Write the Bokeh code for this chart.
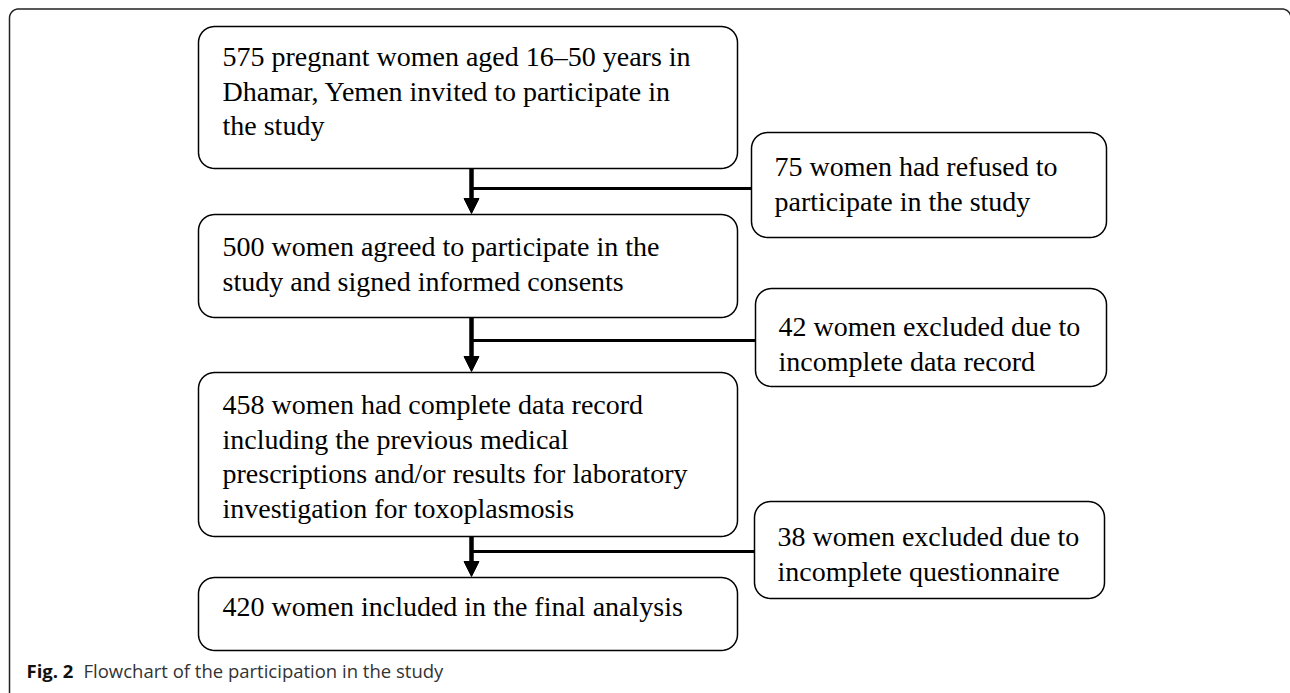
import numpy as np
from bokeh.plotting import figure
from bokeh.models import Range1d, Arrow, NormalHead
from bokeh.core.properties import value
from bokeh.embed import file_html
from bokeh.resources import INLINE

# ---- content (data) ----
main_counts = [575, 500, 458, 420]
excluded_counts = [75, 42, 38]
main_texts = [
    ["575 pregnant women aged 16\u201350 years in",
     "Dhamar, Yemen invited to participate in",
     "the study"],
    ["500 women agreed to participate in the",
     "study and signed informed consents"],
    ["458 women had complete data record",
     "including the previous medical",
     "prescriptions and/or results for laboratory",
     "investigation for toxoplasmosis"],
    ["420 women included in the final analysis"],
]
excl_texts = [
    ["75 women had refused to", "participate in the study"],
    ["42 women excluded due to", "incomplete data record"],
    ["38 women excluded due to", "incomplete questionnaire"],
]
caption_label = "Fig. 2"
caption_text = "Flowchart of the participation in the study"

# ---- layout (page pixels) ----
main_boxes = [(198, 737, 26, 168), (198, 737, 214, 317), (198, 737, 372, 536), (198, 737, 577, 650)]
excl_boxes = [(751, 1106, 132, 237), (755, 1106, 288, 386), (754, 1104, 501, 598)]
main_first_line = [56, 246, 404, 606]
excl_first_line = [166, 326, 536]
excl_text_x = [774, 778, 777]
connector_y = [188, 340, 551]
flow_x = 471
line_gap = 34.5
radius = 16

W, H = 1290, 693
p = figure(width=W, height=H, x_range=Range1d(0, W), y_range=Range1d(H, 0),
           output_backend="svg", toolbar_location=None, min_border=0,
           outline_line_color=None, background_fill_color="white", border_fill_color="white")
p.axis.visible = False
p.grid.visible = False


def rrect(x0, x1, y0, y1, r, n=12):
    xs, ys = [], []
    corners = [(x1 - r, y0 + r, -90, 0), (x1 - r, y1 - r, 0, 90),
               (x0 + r, y1 - r, 90, 180), (x0 + r, y0 + r, 180, 270)]
    for cx, cy, a0, a1 in corners:
        t = np.radians(np.linspace(a0, a1, n))
        xs.extend(cx + r * np.cos(t))
        ys.extend(cy + r * np.sin(t))
    return list(xs), list(ys)


# outer frame
fx, fy = rrect(9, 1290.5, 8.5, 760, 9)
p.patch(fx, fy, fill_color=None, line_color="#222222", line_width=1.5)

# connectors and arrows
for i in range(3):
    top_box = main_boxes[i]
    nxt = main_boxes[i + 1]
    ex = excl_boxes[i]
    p.segment(x0=[flow_x], y0=[connector_y[i]], x1=[ex[0]], y1=[connector_y[i]],
              line_color="black", line_width=3)
    p.add_layout(Arrow(end=NormalHead(size=15, fill_color="black", line_color="black", line_width=1),
                       x_start=flow_x, y_start=top_box[3], x_end=flow_x, y_end=nxt[2] - 1,
                       line_color="black", line_width=4.5))

# boxes
for (x0, x1, y0, y1) in main_boxes + excl_boxes:
    bx, by = rrect(x0, x1, y0, y1, radius)
    p.patch(bx, by, fill_color="white", line_color="black", line_width=1.5)

font = value("Liberation Serif")
for i, lines in enumerate(main_texts):
    ys = [main_first_line[i] + k * line_gap for k in range(len(lines))]
    p.text(x=[222] * len(lines), y=ys, text=lines, text_font=font, text_font_size="28px",
           text_baseline="middle", text_align="left", text_color="black")
for i, lines in enumerate(excl_texts):
    ys = [excl_first_line[i] + k * line_gap for k in range(len(lines))]
    p.text(x=[excl_text_x[i]] * len(lines), y=ys, text=lines, text_font=font, text_font_size="28px",
           text_baseline="middle", text_align="left", text_color="black")

# caption
p.text(x=[26], y=[670], text=[caption_label], text_font=value("Open Sans"), text_font_size="18.5px",
       text_font_style="bold", text_baseline="middle", text_color="#111111")
p.text(x=[83], y=[670], text=[caption_text], text_font=value("Open Sans"), text_font_size="18.5px",
       text_baseline="middle", text_color="#333333")

open("out.html", "w").write(file_html(p, INLINE))
